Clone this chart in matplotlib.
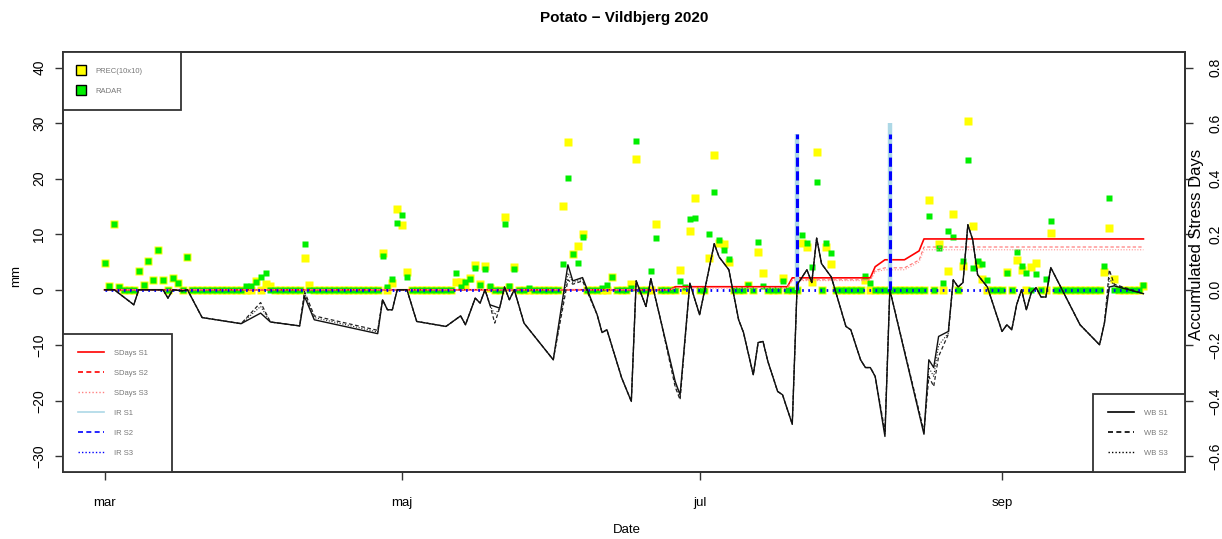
import numpy as np
import pandas as pd
import matplotlib
matplotlib.use('Agg')
import matplotlib.pyplot as plt
from matplotlib.lines import Line2D

plt.rcParams['font.family'] = ['Liberation Sans', 'DejaVu Sans']

YEAR = 2020
days = pd.date_range(f'{YEAR}-03-01', f'{YEAR}-09-30', freq='D')

# daily precipitation, mm (days not listed had 0)
prec_10x10 = {
    '03-01': 4.8, '03-02': 0.7, '03-03': 11.8, '03-04': 0.5, '03-08': 3.4,
    '03-09': 0.9, '03-10': 5.2, '03-11': 1.8, '03-12': 7.2, '03-13': 1.8,
    '03-15': 2.2, '03-16': 1.3, '03-18': 5.9, '04-01': 1.6, '04-03': 1.1,
    '04-04': 0.6, '04-11': 5.7, '04-12': 0.9, '04-27': 6.6, '04-29': 1.3,
    '04-30': 14.5, '05-01': 11.7, '05-02': 3.2, '05-12': 1.4, '05-13': 1.4,
    '05-14': 0.8, '05-15': 2.1, '05-16': 4.5, '05-17': 1.0, '05-18': 4.3,
    '05-19': 0.3, '05-22': 13.1, '05-23': 0.5, '05-24': 4.1, '06-03': 15.1,
    '06-04': 26.6, '06-05': 6.5, '06-06': 7.9, '06-07': 10.0, '06-13': 2.3,
    '06-17': 1.0, '06-18': 23.5, '06-22': 11.9, '06-27': 3.6, '06-29': 10.6,
    '06-30': 16.5, '07-03': 5.7, '07-04': 24.2, '07-05': 8.5, '07-06': 8.3,
    '07-07': 5.0, '07-11': 0.9, '07-13': 6.8, '07-14': 3.0, '07-18': 2.2,
    '07-22': 8.4, '07-23': 7.7, '07-24': 1.4, '07-25': 24.8, '07-27': 7.7,
    '07-28': 4.6, '08-04': 1.8, '08-17': 16.1, '08-19': 8.3, '08-21': 3.4,
    '08-22': 13.6, '08-24': 4.3, '08-25': 30.3, '08-26': 11.5, '08-27': 4.7,
    '08-28': 2.0, '09-02': 3.2, '09-04': 5.4, '09-05': 3.6, '09-07': 4.1,
    '09-08': 4.8, '09-11': 10.3, '09-22': 3.2, '09-23': 11.2, '09-24': 2.0,
    '09-30': 0.6,
}
radar = {
    '03-01': 4.8, '03-02': 0.7, '03-03': 11.8, '03-04': 0.5, '03-08': 3.4,
    '03-09': 0.9, '03-10': 5.2, '03-11': 1.8, '03-12': 7.2, '03-13': 1.8,
    '03-15': 2.2, '03-16': 1.3, '03-18': 5.9, '03-30': 0.6, '03-31': 0.6,
    '04-01': 1.4, '04-02': 2.3, '04-03': 3.1, '04-11': 8.3, '04-27': 6.0,
    '04-28': 0.5, '04-29': 2.0, '04-30': 12.0, '05-01': 13.4, '05-02': 2.3,
    '05-12': 3.0, '05-13': 0.5, '05-14': 1.4, '05-15': 2.0, '05-16': 4.0,
    '05-17': 0.8, '05-18': 3.7, '05-19': 0.7, '05-22': 11.9, '05-23': 0.7,
    '05-24': 3.8, '05-27': 0.3, '06-03': 4.7, '06-04': 20.1, '06-05': 6.5,
    '06-06': 4.8, '06-07': 9.5, '06-11': 0.3, '06-12': 0.8, '06-13': 2.3,
    '06-17': 0.4, '06-18': 26.8, '06-21': 3.4, '06-22': 9.4, '06-27': 1.6,
    '06-28': 0.5, '06-29': 12.7, '06-30': 13.0, '07-03': 10.0, '07-04': 17.6,
    '07-05': 9.0, '07-06': 7.1, '07-07': 5.6, '07-11': 0.9, '07-13': 8.6,
    '07-14': 0.7, '07-18': 1.6, '07-22': 9.9, '07-23': 8.4, '07-24': 4.1,
    '07-25': 19.4, '07-27': 8.4, '07-28': 6.6, '08-04': 2.5, '08-05': 1.2,
    '08-17': 13.3, '08-19': 7.5, '08-20': 1.2, '08-21': 10.6, '08-22': 9.5,
    '08-24': 5.2, '08-25': 23.3, '08-26': 4.0, '08-27': 5.2, '08-28': 4.6,
    '08-29': 1.7, '09-02': 3.0, '09-04': 6.8, '09-05': 4.3, '09-06': 3.0,
    '09-08': 2.8, '09-10': 1.9, '09-11': 12.4, '09-22': 4.3, '09-23': 16.5,
    '09-30': 0.8,
}

# irrigation, mm
irrig_s1 = {'07-21': 28.0, '08-09': 30.0}
irrig_s2 = {'07-21': 28.0, '08-09': 28.0}
irrig_s3 = {}

# water balance, mm
wb_dates = [
    '03-01', '03-03', '03-07', '03-08', '03-13', '03-14', '03-15', '03-17',
    '03-18', '03-21', '03-29', '04-02', '04-04', '04-10', '04-11', '04-13',
    '04-26', '04-27', '04-28', '04-29', '04-30', '05-02', '05-04', '05-10',
    '05-13', '05-14', '05-16', '05-17', '05-18', '05-19', '05-20', '05-21',
    '05-22', '05-23', '05-24', '05-26', '06-01', '06-04', '06-05', '06-07',
    '06-10', '06-11', '06-12', '06-15', '06-17', '06-18', '06-20', '06-21',
    '06-23', '06-26', '06-27', '06-29', '07-01', '07-04', '07-05', '07-07',
    '07-09', '07-10', '07-12', '07-13', '07-14', '07-15', '07-17', '07-18',
    '07-20', '07-21', '07-23', '07-24', '07-25', '07-26', '07-28', '07-31',
    '08-01', '08-03', '08-04', '08-05', '08-06', '08-08', '08-09', '08-16',
    '08-17', '08-18', '08-19', '08-21', '08-22', '08-23', '08-24', '08-25',
    '08-26', '08-27', '08-29', '09-01', '09-02', '09-03', '09-04', '09-05',
    '09-06', '09-07', '09-08', '09-09', '09-10', '09-11', '09-17', '09-21',
    '09-22', '09-23', '09-24', '09-30',
]
wb_s1 = [
    0.0, 0.0, -2.7, 0.0, 0.0, -1.5, 0.0, -0.2,
    0.0, -5.0, -6.1, -4.2, -5.8, -6.5, -1.2, -5.4,
    -7.9, -1.8, -3.6, -3.6, 0.0, 0.0, -5.7, -6.6,
    -4.7, -6.3, -1.5, -2.4, 0.0, -2.7, -3.0, -3.3,
    0.5, -1.8, 0.0, -6.0, -12.6, 4.5, 1.6, 2.2,
    -4.5, -7.7, -7.2, -15.8, -20.1, 1.6, -3.0, 2.0,
    -5.4, -16.5, -18.9, 1.2, -4.5, 8.3, 5.9, 3.6,
    -5.4, -7.7, -15.3, -9.5, -9.3, -12.9, -18.3, -18.9,
    -24.2, 0.9, 3.6, 1.3, 9.3, 4.7, 2.3, -6.6,
    -7.2, -12.6, -14.0, -14.0, -15.6, -26.4, 0.0, -26.0,
    -12.6, -14.0, -8.4, -7.5, 1.8, 0.5, 1.3, 11.7,
    9.0, 2.7, 0.5, -7.5, -6.3, -7.2, -2.7, 0.0,
    -3.6, -0.5, 0.4, -1.3, -1.3, 4.0, -6.3, -9.9,
    -6.0, 0.5, 0.7, -0.7,
]
wb_s2 = [
    0.0, 0.0, -2.7, 0.0, 0.0, -1.5, 0.0, -0.2,
    0.0, -5.0, -6.1, -2.3, -5.8, -6.5, -0.3, -4.7,
    -7.3, -1.8, -3.6, -3.6, 0.0, 0.0, -5.7, -6.6,
    -4.7, -6.3, -1.5, -2.4, 0.0, -2.7, -6.0, -3.3,
    0.5, -1.8, 0.0, -6.0, -12.6, 1.8, 1.0, 1.6,
    -4.5, -7.7, -7.2, -15.8, -20.1, 1.6, -3.0, 2.0,
    -5.4, -17.5, -19.8, 1.2, -4.5, 8.3, 5.9, 3.6,
    -5.4, -7.7, -15.3, -9.5, -9.3, -12.9, -18.3, -18.9,
    -24.2, 0.9, 3.6, 1.3, 9.3, 4.7, 2.3, -6.6,
    -7.2, -12.6, -14.0, -14.0, -15.6, -25.5, 0.0, -25.5,
    -15.6, -17.4, -12.0, -8.0, 1.8, 0.5, 1.3, 11.7,
    9.0, 2.7, 0.5, -7.5, -6.3, -7.2, -2.7, 0.0,
    -3.6, -0.5, 0.4, -1.3, -1.3, 4.0, -6.3, -9.9,
    -6.0, 3.6, 1.0, -0.7,
]
wb_s3 = [
    0.0, 0.0, -2.7, 0.0, 0.0, -1.5, 0.0, -0.2,
    0.0, -5.0, -6.1, -3.0, -5.8, -6.5, -0.6, -5.0,
    -7.6, -1.8, -3.6, -3.6, 0.0, 0.0, -5.7, -6.6,
    -4.7, -6.3, -1.5, -2.4, 0.0, -2.7, -4.5, -3.3,
    0.5, -1.8, 0.0, -6.0, -12.6, 3.0, 1.3, 1.9,
    -4.5, -7.7, -7.2, -15.8, -20.1, 1.6, -3.0, 2.0,
    -5.4, -17.0, -19.4, 1.2, -4.5, 8.3, 5.9, 3.6,
    -5.4, -7.7, -15.3, -9.5, -9.3, -12.9, -18.3, -18.9,
    -24.2, 0.9, 3.6, 1.3, 9.3, 4.7, 2.3, -6.6,
    -7.2, -12.6, -14.0, -14.0, -15.6, -26.0, 0.0, -25.8,
    -14.0, -15.6, -10.0, -7.8, 1.8, 0.5, 1.3, 11.7,
    9.0, 2.7, 0.5, -7.5, -6.3, -7.2, -2.7, 0.0,
    -3.6, -0.5, 0.4, -1.3, -1.3, 4.0, -6.3, -9.9,
    -6.0, 2.0, 0.8, -0.7,
]

# accumulated stress days
sd_dates = ['03-01', '06-25', '06-26', '07-19', '07-20', '08-05', '08-06',
            '08-08', '08-12', '08-15', '08-16', '09-30']
sdays_s1 = [0, 0, 0.011, 0.011, 0.043, 0.043, 0.083, 0.108, 0.108, 0.14, 0.183, 0.183]
sdays_s2 = [0, 0, 0.008, 0.008, 0.036, 0.036, 0.07, 0.079, 0.079, 0.107, 0.154, 0.154]
sdays_s3 = [0, 0, 0.006, 0.006, 0.033, 0.033, 0.065, 0.072, 0.072, 0.1, 0.144, 0.144]

month_ticks = ['03-01', '05-01', '07-01', '09-01']
month_labels = ['mar', 'maj', 'jul', 'sep']


def to_dates(keys):
    return pd.to_datetime([f'{YEAR}-{k}' for k in keys])


def daily(values):
    s = pd.Series(0.0, index=days)
    for k, v in values.items():
        s[pd.Timestamp(f'{YEAR}-{k}')] = v
    return s


prec = daily(prec_10x10)
rad = daily(radar)
ir1, ir2, ir3 = daily(irrig_s1), daily(irrig_s2), daily(irrig_s3)

W, H = 1222, 539
fig = plt.figure(figsize=(W / 100, H / 100), dpi=100)
rect = [63 / W, 1 - 472 / H, (1185 - 63) / W, (472 - 52) / H]

ax = fig.add_axes(rect)
ax2 = ax.twinx()
top = fig.add_axes(rect, sharex=ax, sharey=ax)
top.set_axis_off()
ax.set_zorder(1)
ax2.set_zorder(2)
top.set_zorder(3)
ax2.patch.set_visible(False)

# x range with R style 4% padding
span = days[-1] - days[0]
ax.set_xlim(days[0] - span * 0.04, days[-1] + span * 0.04)
ax.set_ylim(-30 - 70 * 0.04, 40 + 70 * 0.04)
ax2.set_ylim((-30 - 70 * 0.04) / 50, (40 + 70 * 0.04) / 50)

# rain points
ax.plot(days, prec.values, 's', ms=6.4, mfc='#ffff00', mec='none', ls='none')
ax.plot(days, rad.values, 's', ms=4.2, mfc='#00ee00', mec='none', ls='none')

# stress days
ax2.plot(to_dates(sd_dates), sdays_s1, color='#ff0000', lw=1.2)
ax2.plot(to_dates(sd_dates), sdays_s2, color='#ff7070', lw=0.8, dashes=(3, 2))
ax2.plot(to_dates(sd_dates), sdays_s3, color='#ff9090', lw=0.8, dashes=(1, 1.5))

# irrigation
top.vlines(days, 0, ir1.values, color='#add8e6', lw=3.2)
top.vlines(days, 0, ir2.values, color='#0000ff', lw=2.2, linestyles=(0, (3, 1.5)))
top.plot(days, ir3.values, color='#0000ff', lw=2.0, dashes=(0.6, 1.6))

# water balance
wbx = to_dates(wb_dates)
top.plot(wbx, wb_s3, color='#222222', lw=0.8, dashes=(1, 1.5))
top.plot(wbx, wb_s2, color='#222222', lw=0.9, dashes=(3, 2))
top.plot(wbx, wb_s1, color='#111111', lw=1.0)

# axes look
for a in (ax, ax2):
    for sp in a.spines.values():
        sp.set_color('#333333')
        sp.set_linewidth(1.3)

ax.set_xticks(to_dates(month_ticks))
ax.set_xticklabels(month_labels)
ax.tick_params(axis='x', length=6, width=1, color='#333333', pad=12, labelsize=9.5)
ax.set_yticks(np.arange(-30, 41, 10))
ax.tick_params(axis='y', length=6, width=1, color='#333333', pad=6, labelsize=10,
               labelrotation=90)
for t in ax.get_yticklabels():
    t.set_va('center')
ax2.set_yticks(np.round(np.arange(-0.6, 0.81, 0.2), 1))
ax2.set_yticklabels([f'{v:.1f}'.replace('-', '\u2212') for v in np.arange(-0.6, 0.81, 0.2)])
ax2.tick_params(axis='y', length=6, width=1, color='#333333', pad=11, labelsize=10,
                labelrotation=90)
for t in ax2.get_yticklabels():
    t.set_va('center')

fig.text(624 / W, 1 - 18 / H, 'Potato \u2212 Vildbjerg 2020', ha='center', va='center',
         fontsize=11, fontweight='bold')
fig.text(627 / W, 1 - 530 / H, 'Date', ha='center', va='center', fontsize=9.5)
fig.text(16 / W, 1 - 276 / H, 'mm', ha='center', va='center', rotation=90, fontsize=9.5)
fig.text(1196 / W, 1 - 244 / H, 'Accumulated Stress Days', ha='center', va='center',
         rotation=90, fontsize=12)

# legends
leg_kw = dict(fontsize=5.5, frameon=True, fancybox=False, framealpha=1,
              edgecolor='#333333', borderaxespad=0, mode='expand',
              labelcolor='#777777', borderpad=2.0, labelspacing=1.65)

h_rain = [Line2D([], [], marker='s', ls='none', ms=6.5, mfc='#ffff00', mec='black', mew=1),
          Line2D([], [], marker='s', ls='none', ms=6.5, mfc='#00ee00', mec='black', mew=1)]
leg1 = top.legend(h_rain, ['PREC(10x10)', 'RADAR'], loc='upper left',
                  bbox_to_anchor=(0, 0, 118 / 1122, 1), handlelength=0.8,
                  handletextpad=1.4, **leg_kw)
leg1.get_frame().set_linewidth(1.3)
top.add_artist(leg1)

h_sd = [Line2D([], [], color='#ff0000', lw=1.2),
        Line2D([], [], color='#ff0000', lw=1.2, dashes=(3, 2)),
        Line2D([], [], color='#ff8080', lw=1.0, dashes=(1, 1.5)),
        Line2D([], [], color='#add8e6', lw=1.2),
        Line2D([], [], color='#0000ff', lw=1.2, dashes=(3, 2)),
        Line2D([], [], color='#0000ff', lw=1.0, dashes=(1, 1.5))]
leg2 = top.legend(h_sd, ['SDays S1', 'SDays S2', 'SDays S3', 'IR S1', 'IR S2', 'IR S3'],
                  loc='lower left', bbox_to_anchor=(0, 0, 109 / 1122, 1),
                  handlelength=3.4, handletextpad=1.3, **leg_kw)
leg2.get_frame().set_linewidth(1.3)
top.add_artist(leg2)

h_wb = [Line2D([], [], color='black', lw=1.2),
        Line2D([], [], color='black', lw=1.2, dashes=(3, 2)),
        Line2D([], [], color='black', lw=1.0, dashes=(1, 1.5))]
leg3 = top.legend(h_wb, ['WB S1', 'WB S2', 'WB S3'], loc='lower right',
                  bbox_to_anchor=(1 - 92 / 1122, 0, 92 / 1122, 1),
                  handlelength=3.4, handletextpad=1.3, **leg_kw)
leg3.get_frame().set_linewidth(1.3)

fig.savefig('out.png', dpi=100)
